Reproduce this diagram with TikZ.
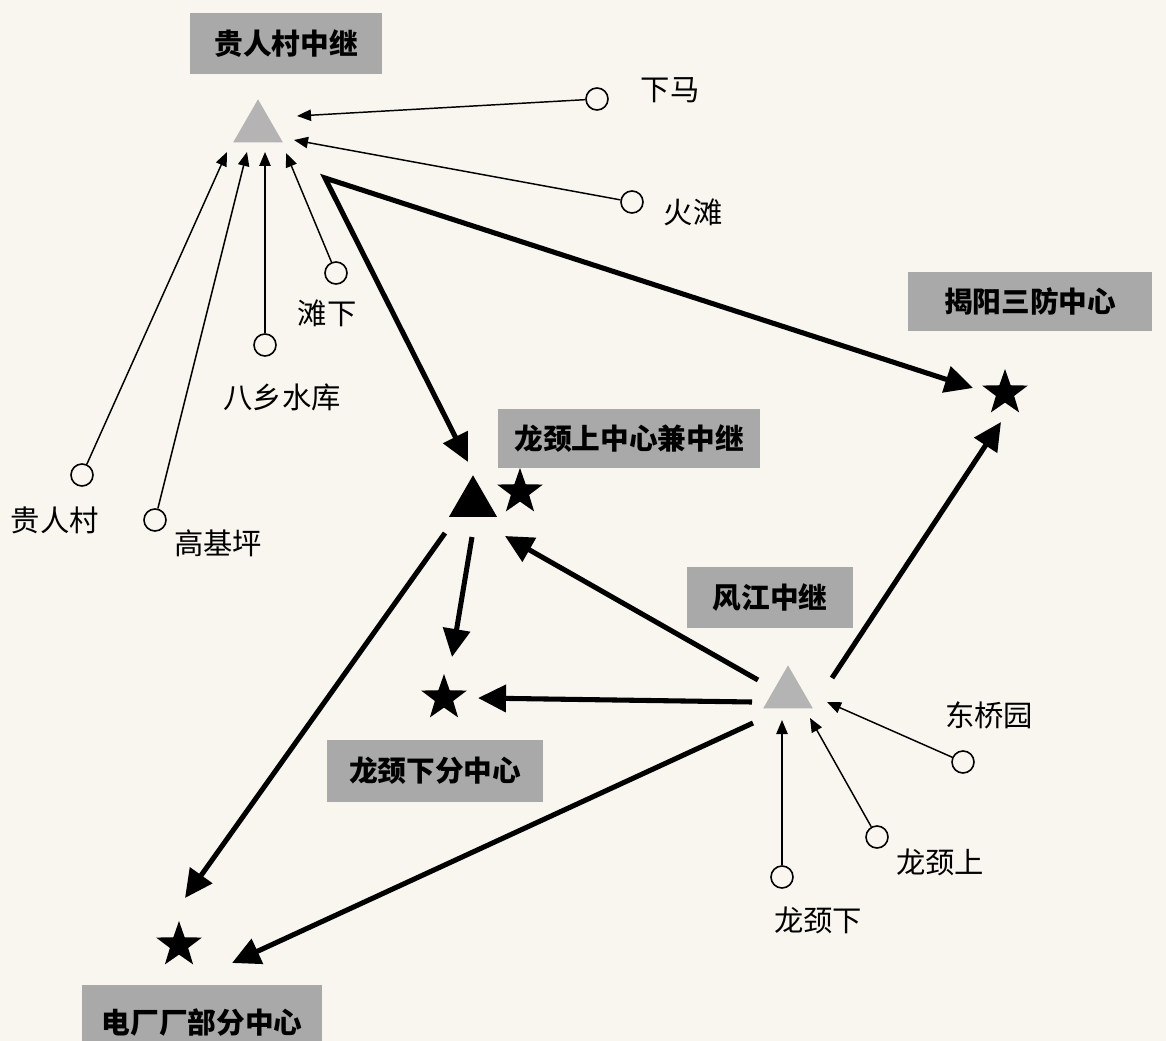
\documentclass[tikz,border=0pt]{standalone}
\usepackage{fontspec}
\usetikzlibrary{shapes.geometric,arrows.meta}
\newfontfamily\cjk{Noto Sans CJK SC}
\definecolor{paper}{HTML}{F9F6EF}
\definecolor{boxgray}{HTML}{A9A9A9}
\definecolor{trigray}{HTML}{B4B4B4}
\tikzset{
  box/.style={fill=boxgray, inner sep=0pt, font=\cjk\bfseries\fontsize{21.5}{21.5}\selectfont},
  lbl/.style={inner sep=0pt, font=\cjk\fontsize{22}{22}\selectfont},
  stn/.style={circle, draw=black, line width=1.2pt, fill=paper, minimum size=16.5pt, inner sep=0pt},
  starnode/.style={star, star points=5, star point ratio=2.5, fill=black, minimum size=36pt, inner sep=0pt},
  tri/.style={regular polygon, regular polygon sides=3, minimum size=43pt, inner sep=0pt},
  thinarrow/.style={line width=1.1pt, -{Triangle[length=10.5pt,width=8.5pt]}},
  thickarrow/.style={line width=3.8pt, line join=miter, -{Triangle[length=21pt,width=20pt]}},
}
\begin{document}
\begin{tikzpicture}[x=0.75pt,y=-0.75pt]
\fill[paper] (0,0) rectangle (1166,1041);
\useasboundingbox (0,0) rectangle (1166,1041);

% boxes
\node[box, minimum width=144pt, minimum height=45.75pt] (bGRC) at (286,43.5) {贵人村中继};
\node[box, minimum width=183pt, minimum height=44.25pt] (bJY) at (1030,301.5) {揭阳三防中心};
\node[box, minimum width=196.5pt, minimum height=44.25pt] (bLJS) at (629,438.5) {龙颈上中心兼中继};
\node[box, minimum width=124.5pt, minimum height=45.75pt] (bFJ) at (770,597.5) {风江中继};
\node[box, minimum width=162pt, minimum height=46.5pt] (bLJX) at (435,771) {龙颈下分中心};
\node[box, minimum width=180pt, minimum height=55pt] (bDC) at (202,1022) {电厂厂部分中心};

% relay triangles
\node[tri, fill=trigray] (tGRC) at (258,128) {};
\node[tri, fill=trigray] (tFJ) at (788,694) {};
\node[tri, fill=black, minimum size=41.6pt] (tLJS) at (473,503) {};

% stars
\node[starnode] (sJY) at (1005,393) {};
\node[starnode] (sLJS) at (520,492) {};
\node[starnode] (sLJX) at (444,698) {};
\node[starnode] (sDC) at (179,945) {};

% stations
\node[stn] (cXM) at (597,99) {};
\node[stn] (cHT) at (632,202) {};
\node[stn] (cTX) at (336,273) {};
\node[stn] (cBX) at (265,345) {};
\node[stn] (cGR) at (82,475) {};
\node[stn] (cGJ) at (155,520) {};
\node[stn] (cDQ) at (963,762) {};
\node[stn] (cLS) at (877,837) {};
\node[stn] (cLX) at (782,877) {};

% labels
\node[lbl] (lXM) at (670,90) {下马};
\node[lbl] (lHT) at (693,212) {火滩};
\node[lbl] (lTX) at (327,313) {滩下};
\node[lbl] (lBX) at (282,397) {八乡水库};
\node[lbl] (lGR) at (55,520) {贵人村};
\node[lbl] (lGJ) at (218,543) {高基坪};
\node[lbl] (lDQ) at (989,715) {东桥园};
\node[lbl] (lLS) at (940,862) {龙颈上};
\node[lbl] (lLX) at (818,920) {龙颈下};

% arrow end coordinates
\coordinate (pXM) at (297,116);
\coordinate (pHT) at (294,140);
\coordinate (pGR) at (227,152);
\coordinate (pGJ) at (247,152);
\coordinate (pBX) at (265,152);
\coordinate (pTX) at (286,153);
\coordinate (pDQ) at (827,702);
\coordinate (pLS) at (810,718);
\coordinate (pLX) at (782,720);

\coordinate (vGRC) at (325,178);
\coordinate (inLJS1) at (468,462);
\coordinate (inJY1) at (973,388);
\coordinate (outLJS1) at (472,537);
\coordinate (inLJX1) at (452,657);
\coordinate (outLJS2) at (445,533);
\coordinate (inDC1) at (185,898);
\coordinate (outFJ1) at (832,678);
\coordinate (inJY2) at (1001,422);
\coordinate (outFJ2) at (758,680);
\coordinate (inLJS2) at (505,536);
\coordinate (outFJ3) at (752,702);
\coordinate (inLJX2) at (478,698);
\coordinate (outFJ4) at (753,723);
\coordinate (inDC2) at (232,963);

% thin arrows
\draw[thinarrow] (cXM) -- (pXM);
\draw[thinarrow] (cHT) -- (pHT);
\draw[thinarrow] (cGR) -- (pGR);
\draw[thinarrow] (cGJ) -- (pGJ);
\draw[thinarrow] (cBX) -- (pBX);
\draw[thinarrow] (cTX) -- (pTX);
\draw[thinarrow] (cDQ) -- (pDQ);
\draw[thinarrow] (cLS) -- (pLS);
\draw[thinarrow] (cLX) -- (pLX);

% thick arrows
\draw[thickarrow, {Triangle[length=21pt,width=20pt]}-{Triangle[length=21pt,width=20pt]}] (inLJS1) -- (vGRC) -- (inJY1);
\draw[thickarrow] (outLJS1) -- (inLJX1);
\draw[thickarrow] (outLJS2) -- (inDC1);
\draw[thickarrow] (outFJ1) -- (inJY2);
\draw[thickarrow] (outFJ2) -- (inLJS2);
\draw[thickarrow] (outFJ3) -- (inLJX2);
\draw[thickarrow] (outFJ4) -- (inDC2);
\end{tikzpicture}
\end{document}
